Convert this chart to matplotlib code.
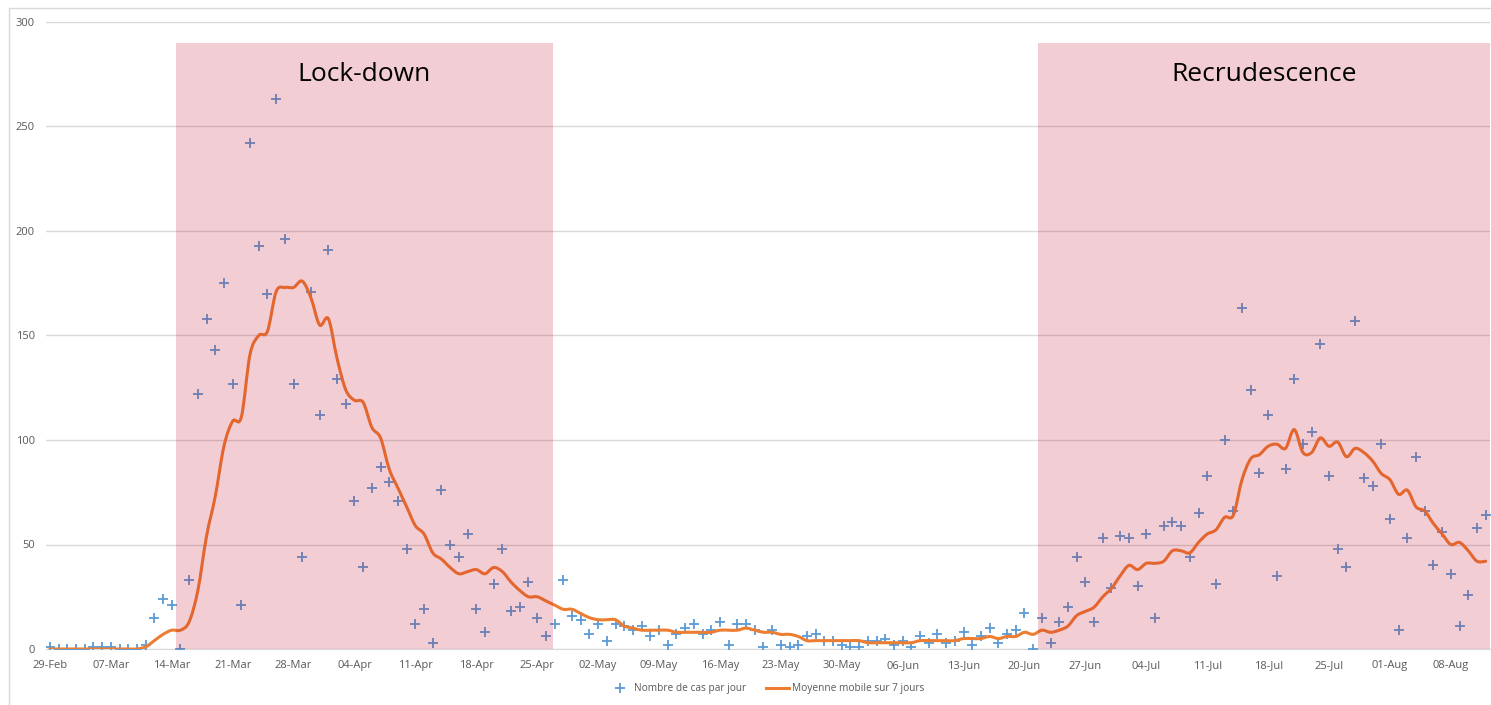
import numpy as np
import pandas as pd
import matplotlib
matplotlib.use("Agg")
import matplotlib.pyplot as plt
from matplotlib.patches import Rectangle, PathPatch
from matplotlib.path import Path
from matplotlib.lines import Line2D

# ---- data ----
start_date = "2020-02-29"

cas_par_jour = [1, 0, 0, 0, 0, 1, 1, 1, 0, 0, 0, 2, 15, 24, 21, 0, 33, 122, 158, 143,
                175, 127, 21, 242, 193, 170, 263, 196, 127, 44, 171, 112, 191, 129, 117, 71, 39, 77, 87, 80,
                71, 48, 12, 19, 3, 76, 50, 44, 55, 19, 8, 31, 48, 18, 20, 32, 15, 6, 12, 33,
                16, 14, 7, 12, 4, 12, 11, 9, 11, 6, 9, 2, 7, 10, 12, 7, 9, 13, 2, 12,
                12, 9, 1, 9, 2, 1, 2, 6, 7, 4, 4, 2, 1, 1, 4, 4, 5, 2, 4, 1,
                6, 3, 7, 3, 4, 8, 2, 6, 10, 3, 7, 9, 17, 0, 15, 3, 13, 20, 44, 32,
                13, 53, 29, 54, 53, 30, 55, 15, 59, 61, 59, 44, 65, 83, 31, 100, 66, 163, 124, 84,
                112, 35, 86, 129, 98, 104, 146, 83, 48, 39, 157, 82, 78, 98, 62, 9, 53, 92, 66, 40,
                56, 36, 11, 26, 58, 64]

moyenne_7j = [0, 0, 0, 0, 0, 0, 0, 0, 0, 0, 0, 1, 4, 7, 9, 9, 13, 28, 54, 73,
              97, 109, 111, 141, 150, 152, 171, 173, 173, 176, 168, 155, 158, 139, 124, 119, 118, 106, 101, 86,
              77, 68, 59, 55, 46, 43, 39, 36, 37, 38, 36, 39, 37, 32, 28, 25, 25, 23, 21, 19,
              19, 17, 15, 14, 14, 14, 11, 10, 9, 9, 9, 9, 8, 8, 8, 8, 8, 9, 9, 9,
              10, 9, 8, 8, 7, 7, 6, 4, 4, 4, 4, 4, 4, 4, 3, 3, 3, 3, 3, 3,
              4, 4, 4, 4, 4, 5, 5, 5, 6, 5, 6, 6, 8, 7, 9, 8, 9, 11, 16, 18,
              20, 25, 29, 35, 40, 38, 41, 41, 42, 47, 47, 46, 51, 55, 57, 63, 64, 81, 91, 93,
              97, 98, 96, 105, 94, 94, 101, 97, 99, 92, 96, 94, 90, 84, 81, 74, 76, 68, 66, 60,
              55, 50, 51, 47, 42, 42]

periodes = ["Lock-down", "Recrudescence"]
periode_debut = [14.5, 113.6]
periode_fin = [57.8, 166]
periode_haut = 290

dates = pd.date_range(start_date, periods=len(cas_par_jour))
jours = np.arange(len(cas_par_jour))
tick_jours = jours[::7]
tick_labels = [d.strftime("%d-%b") for d in dates[::7]]

# ---- figure ----
plt.rcParams['font.family'] = ['Open Sans', 'DejaVu Sans']
fig = plt.figure(figsize=(14.91, 7.05), dpi=100)
ax = fig.add_axes([46/1491, 56/705, 1444/1491, 627/705])

ax.plot(jours, cas_par_jour, ls='none', marker='+', ms=6.5, mew=1.3,
        color='#5b9bd5', zorder=3)

# courbe lissee (comme excel) : bezier entre les points
p = np.column_stack([jours, moyenne_7j]).astype(float)
pp = np.vstack([p[0], p, p[-1]])
verts = [p[0]]
codes = [Path.MOVETO]
for i in range(len(p) - 1):
    c1 = pp[i+1] + (pp[i+2] - pp[i]) / 6
    c2 = pp[i+2] - (pp[i+3] - pp[i+1]) / 6
    verts += [c1, c2, p[i+1]]
    codes += [Path.CURVE4] * 3
ax.add_patch(PathPatch(Path(verts, codes), facecolor='none', edgecolor='#ed7d31',
                       lw=2.2, zorder=4, capstyle='round', joinstyle='round'))

# zones roses par dessus (transparentes)
for nom, a, b in zip(periodes, periode_debut, periode_fin):
    ax.add_patch(Rectangle((a, 0), b - a, periode_haut, facecolor=(190/255, 10/255, 40/255),
                           alpha=0.2, edgecolor='none', zorder=5))
    ax.text((a + min(b, 165.5)) / 2, 275, nom, ha='center', va='center',
            fontsize=19, color='black', zorder=6)

ax.set_xlim(-0.45, 165.5)
ax.set_ylim(0, 300)
ax.set_yticks(np.arange(0, 301, 50))
ax.set_xticks(tick_jours)
ax.set_xticklabels(tick_labels)
ax.grid(axis='y', color='#d9d9d9', lw=1)
ax.set_axisbelow(True)
ax.tick_params(length=0, labelsize=8, colors='#595959', pad=8)
for s in ['top', 'right', 'left']:
    ax.spines[s].set_visible(False)
ax.spines['bottom'].set_color('#d9d9d9')

handles = [Line2D([], [], ls='none', marker='+', ms=6.5, mew=1.3, color='#5b9bd5'),
           Line2D([], [], color='#ed7d31', lw=2.2)]
labels = ['Nombre de cas par jour', 'Moyenne mobile sur 7 jours']
fig.legend(handles, labels, loc='center', bbox_to_anchor=(0.514, 0.0227), ncol=2, frameon=False,
           fontsize=7.3, labelcolor='#595959', handlelength=2.2, handletextpad=0.3,
           columnspacing=2.0)

# cadre du graphique
fig.patches.append(Rectangle((9/1491, -0.01), 1.02, (705-8)/705 + 0.01, transform=fig.transFigure,
                             fill=False, edgecolor='#d9d9d9', lw=1))

fig.savefig('out.png', dpi=100)
